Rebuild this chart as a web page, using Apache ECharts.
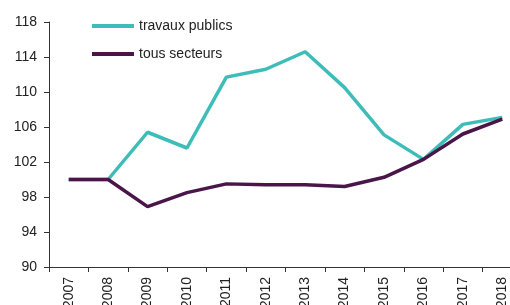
<!DOCTYPE html>
<html>
<head>
<meta charset="utf-8">
<script src="https://cdn.jsdelivr.net/npm/echarts@6/dist/echarts.min.js"></script>
<style>
  html, body { margin: 0; padding: 0; background: #fff; }
  #chart { width: 510px; height: 305px; }
</style>
</head>
<body>
<div id="chart"></div>
<script>
const years = ['2007', '2008', '2009', '2010', '2011', '2012', '2013', '2014', '2015', '2016', '2017', '2018'];
const travauxPublics = [100, 100, 105.4, 103.6, 111.7, 112.6, 114.6, 110.5, 105.1, 102.3, 106.3, 107.1];
const tousSecteurs = [100, 100, 96.9, 98.5, 99.5, 99.4, 99.4, 99.2, 100.25, 102.3, 105.2, 106.9];

const font = 'Liberation Sans, Arial, sans-serif';

const chart = echarts.init(document.getElementById('chart'));

chart.setOption({
    animation: false,
    grid: {left: 49, width: 473, top: 22, height: 245, outerBoundsMode: 'none', containLabel: false},
    legend: {
        orient: 'vertical',
        left: 87,
        top: 14,
        itemWidth: 42,
        itemHeight: 4,
        itemGap: 14,
        icon: 'rect',
        textStyle: {fontFamily: font, fontSize: 14, color: '#222'},
        data: ['travaux publics', 'tous secteurs']
    },
    xAxis: {
        type: 'category',
        data: years,
        boundaryGap: true,
        axisLine: {lineStyle: {color: '#333', width: 1}},
        axisTick: {show: true, length: 5, interval: 0, lineStyle: {color: '#333'}},
        axisLabel: {rotate: 90, interval: 0, margin: 10, fontFamily: font, fontSize: 14, color: '#222'}
    },
    yAxis: {
        type: 'value',
        min: 90,
        max: 118,
        interval: 4,
        splitLine: {show: false},
        axisLine: {show: true, lineStyle: {color: '#333', width: 1}},
        axisTick: {show: true, length: 5, lineStyle: {color: '#333'}},
        axisLabel: {margin: 12, fontFamily: font, fontSize: 14, color: '#222'}
    },
    series: [
        {
            name: 'travaux publics',
            type: 'line',
            data: travauxPublics,
            symbol: 'none',
            color: '#3dbcb8',
            lineStyle: {width: 3.5, color: '#3dbcb8'}
        },
        {
            name: 'tous secteurs',
            type: 'line',
            data: tousSecteurs,
            symbol: 'none',
            color: '#4a1549',
            lineStyle: {width: 3.5, color: '#4a1549'},
            z: 3
        }
    ]
});
</script>
</body>
</html>
